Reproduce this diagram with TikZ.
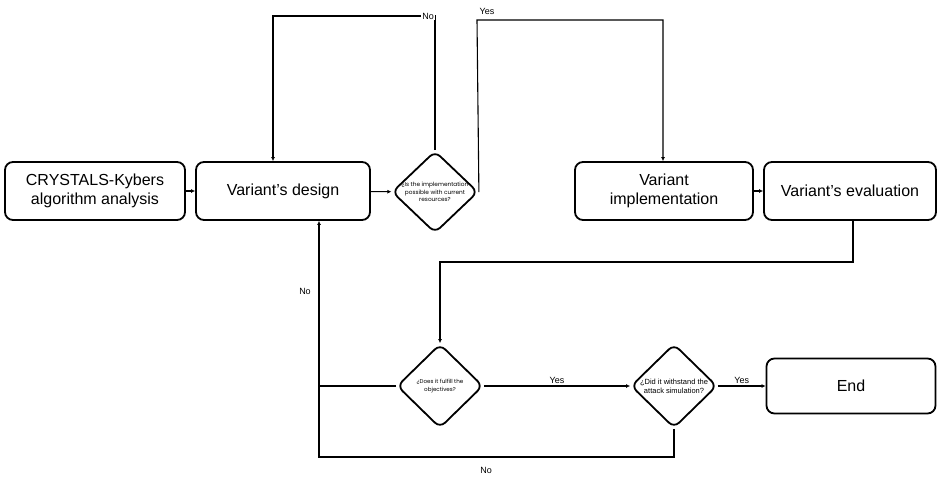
\documentclass[tikz,border=0pt]{standalone}
\usepackage{fontspec}
\setmainfont{Liberation Sans}
\newfontfamily\geofont{Poppins}
\usetikzlibrary{shapes.geometric,arrows.meta}
\begin{document}
\begin{tikzpicture}[x=1pt,y=-1pt,
  procbox/.style={draw,line width=1.8pt,rounded corners=8pt,align=center,inner sep=0pt,font=\fontsize{16}{19}\selectfont},
  decbox/.style={draw,line width=1.8pt,diamond,rounded corners=7pt,inner sep=0pt,align=center},
  conn/.style={line width=1.1pt,-{Latex[length=4pt,width=4pt]}},
  plain/.style={line width=1.1pt},
  lbl/.style={font=\fontsize{9}{11}\selectfont,inner sep=1pt}]
\useasboundingbox (0,0) rectangle (939,485);
\node[procbox,minimum width=180pt,minimum height=58pt] (a) at (95,191) {CRYSTALS-Kybers\\algorithm analysis};
\node[procbox,minimum width=174pt,minimum height=58pt] (b) at (283,191) {Variant’s design};
\node[decbox,minimum width=86pt,minimum height=82pt] (d1) at (435,192) {};
\node[font=\geofont\fontsize{5.8}{7.5}\selectfont,align=center] at (435,192) {¿Is the implementation\\possible with current\\resources?};
\node[procbox,minimum width=178pt,minimum height=58pt] (c) at (664,191) {Variant\\implementation};
\node[procbox,minimum width=172pt,minimum height=58pt] (e) at (850,191) {Variant’s evaluation};
\node[decbox,minimum width=86pt,minimum height=84pt] (d2) at (440,386) {};
\node[font=\geofont\fontsize{5.6}{8}\selectfont,align=center] at (440,386) {¿Does it fulfill the\\objectives?};
\node[decbox,minimum width=86pt,minimum height=84pt] (d3) at (674,386) {};
\node[font=\fontsize{7.5}{9}\selectfont,align=center] at (674,386) {¿Did it withstand the\\attack simulation?};
\node[procbox,minimum width=169pt,minimum height=55pt] (f) at (851,386) {End};

\coordinate (n1) at (435,16);
\coordinate (n2) at (273,16);
\coordinate (y1) at (477,20);
\coordinate (y2) at (663,20);
\coordinate (e1) at (853,262);
\coordinate (e2) at (440,262);
\coordinate (l1) at (674,457);
\coordinate (l2) at (319,457);
\coordinate (j) at (319,386);

\draw[conn] (a) -- (b);
\draw[conn] (b) -- (d1);
\draw[conn] (d1.north) -- (n1) -- (n2) -- (n2 |- b.north);
\node[lbl,fill=white] at (428,16) {No};
\draw[conn] (d1.east) -- (y1) -- (y2) -- (y2 |- c.north);
\node[lbl] at (487,11) {Yes};
\draw[conn] (c) -- (e);
\draw[conn] (e1 |- e.south) -- (e1) -- (e2) -- (d2.north);
\draw[conn] (d2) -- node[lbl,above=1pt] {Yes} (d3);
\draw[conn] (d3) -- node[lbl,above=1pt] {Yes} (f);
\draw[conn] (d3.south) -- (l1) -- (l2) -- (l2 |- b.south);
\draw[plain] (d2.west) -- (j);
\node[lbl] at (486,470) {No};
\node[lbl] at (305,291) {No};
\end{tikzpicture}
\end{document}
